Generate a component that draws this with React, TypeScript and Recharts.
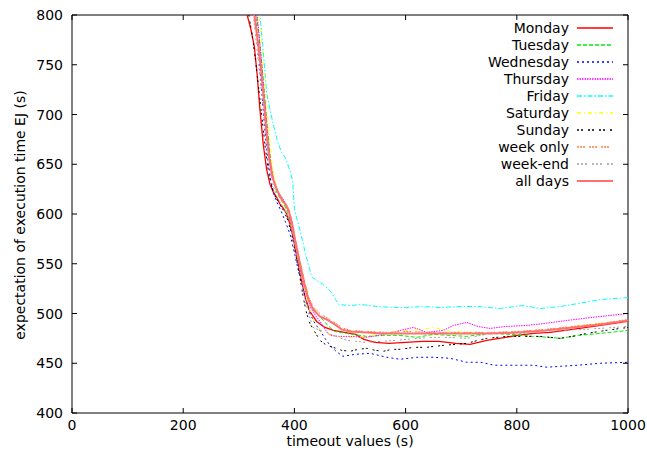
import { LineChart, Line, XAxis, YAxis, ReferenceArea, Legend } from "recharts";

const W = 647;
const H = 452;
const PLOT = { left: 72, right: 628, top: 15, bottom: 413 };
const FONT = "'DejaVu Sans', sans-serif";

const xTicks = [0, 200, 400, 600, 800, 1000];
const yTicks = [400, 450, 500, 550, 600, 650, 700, 750, 800];

// [timeout, expectation] pairs
const monday: [number, number][] = [
  [300, 880], [315, 800], [322, 785], [328, 768], [333, 740], [338, 705], [344, 670], [350, 645],
  [356, 630], [362, 622], [368, 617], [374, 610], [380, 606], [386, 600], [392, 590], [398, 576],
  [405, 555], [412, 535], [420, 515], [428, 502], [440, 492], [455, 486], [470, 483], [490, 481],
  [510, 479], [525, 474], [545, 471], [570, 470], [600, 471], [630, 472], [660, 472], [690, 470],
  [716, 469], [746, 473], [780, 476], [800, 478], [830, 480], [860, 481], [900, 484], [950, 488],
  [1000, 492],
];

const tuesday: [number, number][] = [
  [300, 930], [332, 800], [338, 770], [344, 735], [350, 695], [356, 660], [362, 635], [368, 622],
  [375, 615], [382, 609], [390, 598], [398, 578], [406, 556], [414, 536], [422, 520], [430, 508],
  [446, 497], [460, 488], [472, 482], [494, 480], [530, 477], [560, 478], [590, 478], [620, 476],
  [650, 479], [680, 478], [710, 477], [750, 480], [790, 479], [830, 477], [860, 476], [878, 475],
  [910, 478], [950, 480], [1000, 483],
];

const wednesday: [number, number][] = [
  [300, 900], [330, 800], [336, 760], [341, 725], [346, 690], [352, 655], [358, 632], [364, 618],
  [370, 610], [376, 603], [384, 592], [392, 580], [398, 566], [404, 551], [410, 537], [416, 524],
  [422, 511], [428, 500], [437, 490], [446, 483], [455, 475], [464, 468], [475, 462], [487, 457],
  [510, 459], [536, 460], [566, 456], [590, 454], [620, 456], [650, 456], [680, 455], [710, 451],
  [735, 451], [760, 448], [800, 448], [830, 448], [854, 446], [880, 447], [910, 448], [950, 450],
  [1000, 451],
];

const thursday: [number, number][] = [
  [300, 930], [333, 800], [339, 765], [345, 725], [351, 685], [357, 652], [363, 632], [369, 624],
  [376, 618], [383, 612], [390, 600], [398, 578], [406, 556], [414, 535], [422, 518], [430, 505],
  [438, 498], [446, 492], [455, 484], [464, 478], [480, 477], [500, 477], [530, 476], [560, 479],
  [590, 483], [614, 486], [638, 481], [668, 483], [686, 488], [710, 491], [730, 487], [752, 485],
  [780, 487], [818, 488], [850, 490], [890, 493], [920, 495], [950, 497], [1000, 500],
];

const friday: [number, number][] = [
  [300, 940], [338, 800], [343, 770], [350, 722], [356, 705], [362, 690], [370, 672], [377, 662],
  [383, 657], [388, 650], [393, 642], [397, 632], [400, 605], [405, 594], [410, 584], [420, 560],
  [431, 537], [440, 533], [450, 530], [460, 525], [467, 521], [474, 514], [480, 509], [500, 508],
  [520, 509], [550, 507], [580, 506], [600, 506], [630, 507], [660, 506], [698, 507], [730, 507],
  [770, 505], [811, 508], [842, 505], [878, 507], [910, 510], [950, 514], [1000, 516],
];

const saturday: [number, number][] = [
  [300, 940], [336, 800], [342, 765], [348, 725], [354, 685], [360, 650], [366, 632], [372, 620],
  [379, 612], [386, 606], [393, 595], [400, 576], [408, 552], [416, 530], [424, 510], [432, 496],
  [440, 488], [450, 482], [470, 478], [487, 475], [510, 476], [530, 477], [550, 479], [572, 481],
  [608, 483], [630, 484], [650, 486], [680, 482], [720, 481], [758, 480], [800, 481], [840, 482],
  [878, 485], [920, 488], [950, 490], [1000, 492],
];

const sunday: [number, number][] = [
  [300, 870], [318, 800], [324, 780], [330, 755], [336, 725], [342, 695], [348, 665], [354, 640],
  [360, 626], [366, 617], [372, 611], [380, 604], [388, 594], [395, 580], [402, 560], [410, 536],
  [416, 516], [422, 500], [428, 490], [434, 484], [446, 473], [458, 468], [470, 466], [485, 463],
  [500, 462], [515, 464], [530, 465], [545, 463], [560, 462], [575, 464], [590, 464], [615, 466],
  [638, 466], [668, 468], [690, 469], [710, 470], [730, 473], [746, 475], [782, 477], [812, 477],
  [842, 477], [878, 475], [900, 477], [926, 480], [960, 483], [1000, 486],
];

const weekOnly: [number, number][] = [
  [300, 930], [330, 800], [337, 765], [343, 730], [348, 700], [353, 670], [358, 648], [364, 632],
  [370, 622], [377, 616], [384, 611], [390, 605], [396, 592], [402, 574], [410, 553], [418, 533],
  [426, 516], [435, 506], [446, 500], [458, 496], [470, 492], [485, 486], [500, 483], [530, 482],
  [570, 481], [600, 482], [650, 481], [700, 481], [750, 481], [800, 482], [850, 484], [900, 487],
  [950, 490], [1000, 494],
];

const weekEnd: [number, number][] = [
  [300, 900], [326, 800], [332, 770], [338, 738], [344, 705], [350, 675], [356, 648], [362, 628],
  [368, 618], [375, 611], [382, 605], [390, 595], [397, 580], [404, 560], [412, 535], [420, 512],
  [428, 495], [434, 486], [446, 483], [458, 481], [475, 477], [494, 473], [512, 472], [530, 471],
  [555, 472], [583, 473], [620, 475], [650, 476], [680, 476], [710, 475], [735, 478], [758, 480],
  [800, 480], [840, 481], [878, 483], [920, 484], [950, 485], [1000, 487],
];

const allDays: [number, number][] = [
  [300, 920], [328, 800], [335, 770], [340, 745], [345, 715], [350, 680], [355, 655], [360, 638],
  [366, 628], [372, 620], [378, 614], [384, 610], [390, 603], [396, 590], [402, 572], [410, 550],
  [418, 530], [426, 513], [435, 503], [446, 497], [458, 494], [470, 490], [485, 484], [500, 482],
  [530, 481], [560, 480], [600, 480], [650, 480], [700, 480], [750, 480], [800, 481], [850, 483],
  [900, 486], [950, 489], [1000, 493],
];

const series = [
  { name: "Monday", pts: monday, color: "#ff0000", dash: undefined, width: 1.3 },
  { name: "Tuesday", pts: tuesday, color: "#00ee00", dash: "4 2", width: 1 },
  { name: "Wednesday", pts: wednesday, color: "#0000ff", dash: "2 3", width: 1 },
  { name: "Thursday", pts: thursday, color: "#ff00ff", dash: "1.5 1", width: 1 },
  { name: "Friday", pts: friday, color: "#00ffff", dash: "5 2 1.5 2", width: 1 },
  { name: "Saturday", pts: saturday, color: "#ffff00", dash: "4 3 1 3", width: 1 },
  { name: "Sunday", pts: sunday, color: "#000000", dash: "2 2 2 5", width: 1 },
  { name: "week only", pts: weekOnly, color: "#ff8040", dash: "2 1 2 1 2 4", width: 1 },
  { name: "week-end", pts: weekEnd, color: "#a0a0a0", dash: "2 2 2 2 2 5", width: 1 },
  { name: "all days", pts: allDays, color: "#ff7070", dash: undefined, width: 2 },
];

function XTick({ x, payload }: any) {
  return (
    <g>
      <line x1={x} x2={x} y1={PLOT.bottom} y2={PLOT.bottom - 5} stroke="#000" />
      <line x1={x} x2={x} y1={PLOT.top} y2={PLOT.top + 5} stroke="#000" />
      <text x={x} y={PLOT.bottom + 17} textAnchor="middle" fontFamily={FONT} fontSize={14} fill="#000">
        {payload.value}
      </text>
    </g>
  );
}

function YTick({ y, payload }: any) {
  return (
    <g>
      <line x1={PLOT.left} x2={PLOT.left + 5} y1={y} y2={y} stroke="#000" />
      <line x1={PLOT.right} x2={PLOT.right - 5} y1={y} y2={y} stroke="#000" />
      <text x={PLOT.left - 9} y={y + 5} textAnchor="end" fontFamily={FONT} fontSize={14} fill="#000">
        {payload.value}
      </text>
    </g>
  );
}

function XLabel() {
  return (
    <text x={(PLOT.left + PLOT.right) / 2} y={446} textAnchor="middle" fontFamily={FONT} fontSize={14} fill="#000">
      timeout values (s)
    </text>
  );
}

function YLabel() {
  const cx = 25;
  const cy = (PLOT.top + PLOT.bottom) / 2 + 1;
  return (
    <text x={cx} y={cy} transform={`rotate(-90 ${cx} ${cy})`} textAnchor="middle" fontFamily={FONT} fontSize={14} fill="#000">
      expectation of execution time EJ (s)
    </text>
  );
}

function LegendBox() {
  return (
    <svg width={160} height={175} style={{ display: "block" }}>
      {series.map((s, i) => {
        const cy = 10 + i * 17;
        return (
          <g key={s.name}>
            <text x={99} y={cy + 5} textAnchor="end" fontFamily={FONT} fontSize={14} fill="#000">
              {s.name}
            </text>
            <line
              x1={107}
              x2={143}
              y1={cy}
              y2={cy}
              stroke={s.color}
              strokeWidth={Math.max(s.width, 1.6)}
              strokeDasharray={s.dash}
            />
          </g>
        );
      })}
    </svg>
  );
}

export default function App() {
  return (
    <div style={{ position: "absolute", left: 0, top: 0, background: "#fff" }}>
      <LineChart
        width={W}
        height={H}
        margin={{ top: PLOT.top, right: W - PLOT.right, bottom: 0, left: PLOT.left - 60 }}
      >
        <XAxis
          type="number"
          dataKey="x"
          domain={[0, 1000]}
          ticks={xTicks}
          allowDataOverflow
          axisLine={false}
          tickLine={false}
          tick={<XTick />}
          height={H - PLOT.bottom}
          label={<XLabel />}
        />
        <YAxis
          type="number"
          dataKey="y"
          domain={[400, 800]}
          ticks={yTicks}
          allowDataOverflow
          axisLine={false}
          tickLine={false}
          tick={<YTick />}
          width={60}
          label={<YLabel />}
        />
        {series.map((s) => (
          <Line
            key={s.name}
            name={s.name}
            data={s.pts.map(([x, y]) => ({ x, y }))}
            dataKey="y"
            type="linear"
            stroke={s.color}
            strokeWidth={s.width}
            strokeDasharray={s.dash}
            dot={false}
            activeDot={false}
            isAnimationActive={false}
          />
        ))}
        <ReferenceArea x1={0} x2={1000} y1={400} y2={800} fill="none" stroke="#000" strokeWidth={1} fillOpacity={0} />
        <Legend
          layout="vertical"
          align="center"
          verticalAlign="middle"
          wrapperStyle={{ left: 470, top: 18, width: 160, height: 175 }}
          content={() => <LegendBox />}
        />
      </LineChart>
    </div>
  );
}
